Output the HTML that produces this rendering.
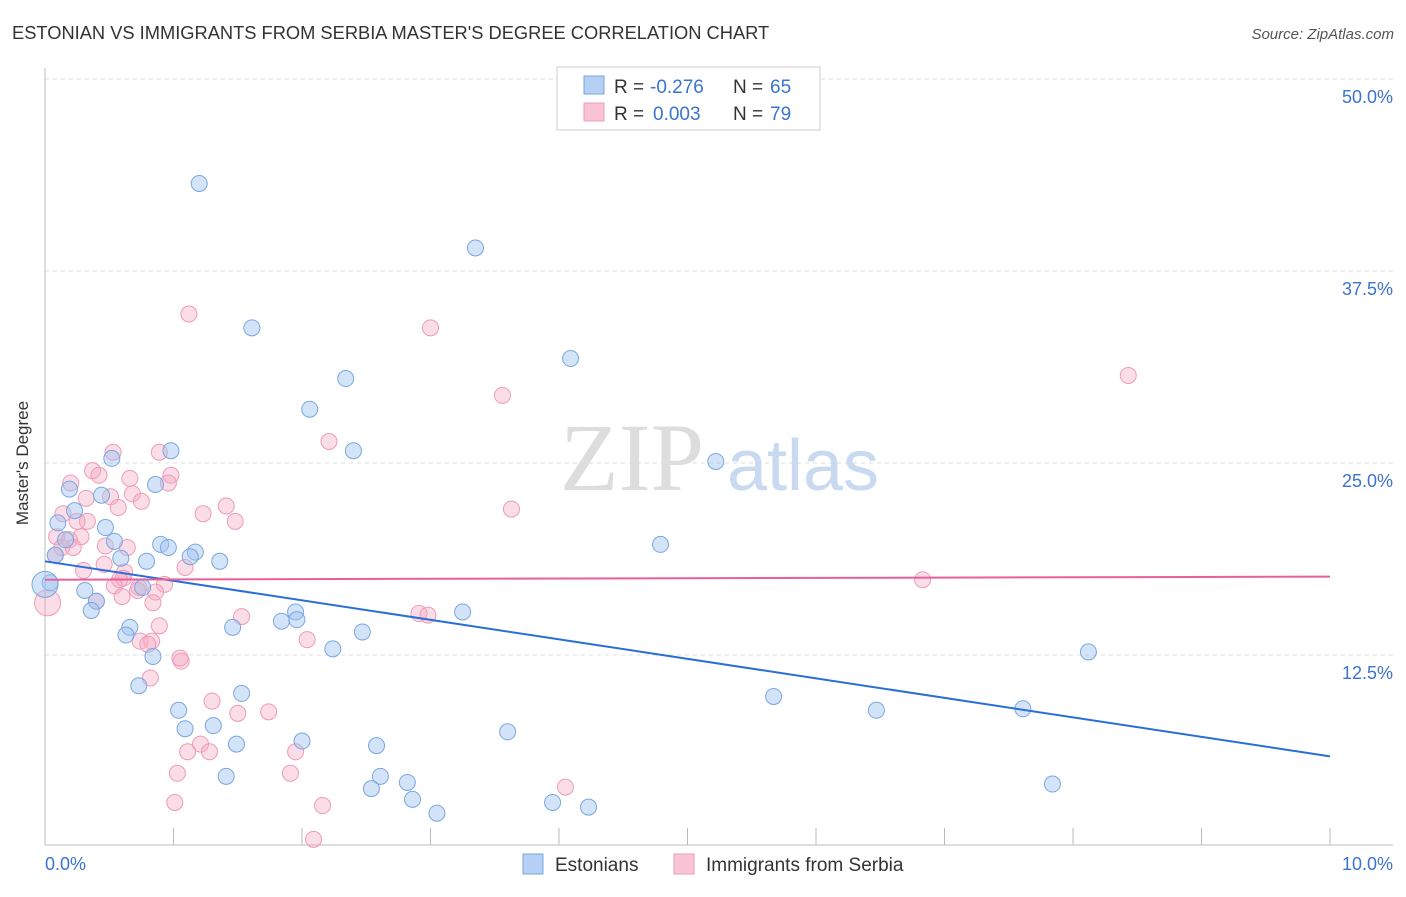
<!DOCTYPE html>
<html><head><meta charset="utf-8"><style>
body{margin:0;background:#fff;font-family:"Liberation Sans",sans-serif;}
svg text{font-family:"Liberation Sans",sans-serif;}
</style></head><body>
<svg id="chart" width="1406" height="892" xmlns="http://www.w3.org/2000/svg">
<text x="12" y="39" font-size="18.3" fill="#333">ESTONIAN VS IMMIGRANTS FROM SERBIA MASTER'S DEGREE CORRELATION CHART</text>
<text x="1394" y="39" font-size="15" fill="#555" font-style="italic" text-anchor="end">Source: ZipAtlas.com</text>
<g id="grid"></g>
<g>
<text x="632" y="490" font-size="96" fill="#ddd" font-family="Liberation Serif" text-anchor="middle" style="font-family:'Liberation Serif',serif">ZIP</text>
<text x="803" y="490" font-size="72" fill="#c8d9f0" text-anchor="middle">atlas</text>
</g>
<line x1="45" y1="68" x2="45" y2="845" stroke="#bbb"/>
<line x1="45" y1="845" x2="1393" y2="845" stroke="#bbb"/>
<g id="marks"></g>
<text x="20" y="455" font-size="17" fill="#333" transform="rotate(-90 28 455)" text-anchor="middle">Master's Degree</text>
<text x="45" y="870" font-size="18" fill="#3b73d0">0.0%</text>
<text x="1393" y="870" font-size="18" fill="#3b73d0" text-anchor="end">10.0%</text>
<g>
<rect x="557" y="67" width="263" height="63" fill="#fff" stroke="#ccc"/>
<rect x="584" y="76" width="20" height="18" fill="#b5cff5" stroke="#7aa6e0"/>
<rect x="584" y="103" width="20" height="18" fill="#f8c4d5" stroke="#ee9bb8"/>
<text y="93" font-size="19" fill="#333"><tspan x="614">R =</tspan><tspan x="650" fill="#3b73d0">-0.276</tspan><tspan x="733">N =</tspan><tspan x="770" fill="#3b73d0">65</tspan></text>
<text y="120" font-size="19" fill="#333"><tspan x="614">R =</tspan><tspan x="653" fill="#3b73d0">0.003</tspan><tspan x="733">N =</tspan><tspan x="770" fill="#3b73d0">79</tspan></text>
</g>
<g>
<rect x="523" y="854" width="20" height="20" fill="#b5cff5" stroke="#7aa6e0"/>
<text x="555" y="871" font-size="19" fill="#333">Estonians</text>
<rect x="674" y="854" width="20" height="20" fill="#f8c4d5" stroke="#ee9bb8"/>
<text x="706" y="871" font-size="19" fill="#333">Immigrants from Serbia</text>
</g>
</svg>
<script>
const yTicks=[12.5,25,37.5,50];
const yTickLabels=["12.5%","25.0%","37.5%","50.0%"];
const xTicks=[0,1,2,3,4,5,6,7,8,9,10];
const blueX=[1.20,3.35,1.61,4.09,2.34,2.06,2.40,0.98,0.52,5.22,0.19,0.86,0.44,0.23,0.10,0.47,0.54,0.16,0.90,0.96,1.17,1.13,0.59,0.79,1.36,0.08,4.79,0.04,0.31,0.76,0.40,0.36,1.95,3.25,1.96,1.84,1.46,0.66,0.63,2.47,2.24,0.84,8.12,0.73,1.53,5.67,1.04,6.47,7.61,1.31,1.09,3.60,2.00,1.49,2.58,1.41,2.61,2.82,7.84,2.54,2.86,3.95,4.23,3.05,0.0];
const blueY=[43.2,39.0,33.8,31.8,30.5,28.5,25.8,25.8,25.3,25.1,23.3,23.6,22.9,21.9,21.1,20.8,19.9,20.0,19.7,19.5,19.2,18.9,18.8,18.6,18.6,19.0,19.7,17.2,16.7,16.9,16.0,15.4,15.3,15.3,14.8,14.7,14.3,14.3,13.8,14.0,12.9,12.4,12.7,10.5,10.0,9.8,8.9,8.9,9.0,7.9,7.7,7.5,6.9,6.7,6.6,4.6,4.6,4.2,4.1,3.8,3.1,2.9,2.6,2.2,17.1];
const pinkX=[1.12,3.00,8.43,3.56,2.21,0.53,0.89,3.63,0.37,0.42,0.20,0.98,0.96,0.66,0.68,0.51,0.32,0.75,0.57,1.41,1.23,1.48,0.33,0.14,0.25,0.09,0.19,0.28,0.13,0.47,0.64,0.22,0.08,0.46,0.30,0.62,0.61,0.58,0.93,1.09,0.54,0.73,0.86,0.72,0.60,0.84,0.40,0.02,6.83,1.53,2.91,2.98,0.89,0.74,0.83,0.80,2.04,1.06,0.82,1.05,1.30,1.50,1.74,1.21,1.28,1.11,1.95,1.03,1.91,4.05,1.01,2.16,2.09];
const pinkY=[34.7,33.8,30.7,29.4,26.4,25.7,25.7,22.0,24.5,24.2,23.7,24.2,23.7,24.0,23.0,22.8,22.7,22.5,22.1,22.2,21.7,21.2,21.2,21.7,21.2,20.2,20.0,20.2,19.5,19.6,19.5,19.5,19.0,18.4,18.0,17.9,17.5,17.4,17.1,18.2,17.0,16.9,16.6,16.7,16.3,15.9,16.0,15.9,17.4,15.0,15.2,15.1,14.4,13.4,13.4,13.2,13.5,12.1,11.0,12.3,9.5,8.7,8.8,6.7,6.2,6.2,6.2,4.8,4.8,3.9,2.9,2.7,0.5];
const blueTrend=[18.6,5.9];
const pinkTrend=[17.4,17.6];
const NS="http://www.w3.org/2000/svg";
function sx(v){return 45+v*128.5;}
function sy(v){return 847-v*15.36;}
const grid=document.getElementById('grid'),marks=document.getElementById('marks');
function mk(tag,attrs,parent){const e=document.createElementNS(NS,tag);for(const k in attrs)e.setAttribute(k,attrs[k]);parent.appendChild(e);return e;}
yTicks.forEach((t,i)=>{
 const l=mk('line',{x1:45,x2:1393,y1:sy(t),y2:sy(t),stroke:'#ddd','stroke-dasharray':'4 4'},grid);
 
 
 const tx=mk('text',{x:1393,y:sy(t)+24,'font-size':18,fill:'#3b73d0','text-anchor':'end'},grid);
 tx.textContent=yTickLabels[i];
 
 
});
xTicks.forEach(t=>{
 const l=mk('line',{x1:sx(t),x2:sx(t),y1:828,y2:845,stroke:'#bbb'},grid);
 
 
});
function pts(X,Y,fill,stroke,name){
 X.forEach((x,i)=>{
  const big=(x<0.03);
  const c=mk('circle',{cx:sx(x),cy:sy(Y[i]),r:big?13:8,fill:fill,stroke:stroke,'stroke-width':1},marks);
  
  
 });
}
pts(pinkX,pinkY,'rgba(245,170,195,0.4)','#ee9bb8','serbia-point');
pts(blueX,blueY,'rgba(160,195,240,0.45)','#7aa6e0','estonian-point');
const bl=mk('line',{x1:sx(0),y1:sy(blueTrend[0]),x2:sx(10),y2:sy(blueTrend[1]),stroke:'#2a6fd6','stroke-width':2},marks);


const pl=mk('line',{x1:sx(0),y1:sy(pinkTrend[0]),x2:sx(10),y2:sy(pinkTrend[1]),stroke:'#e8609a','stroke-width':2},marks);


</script>
</body></html>
